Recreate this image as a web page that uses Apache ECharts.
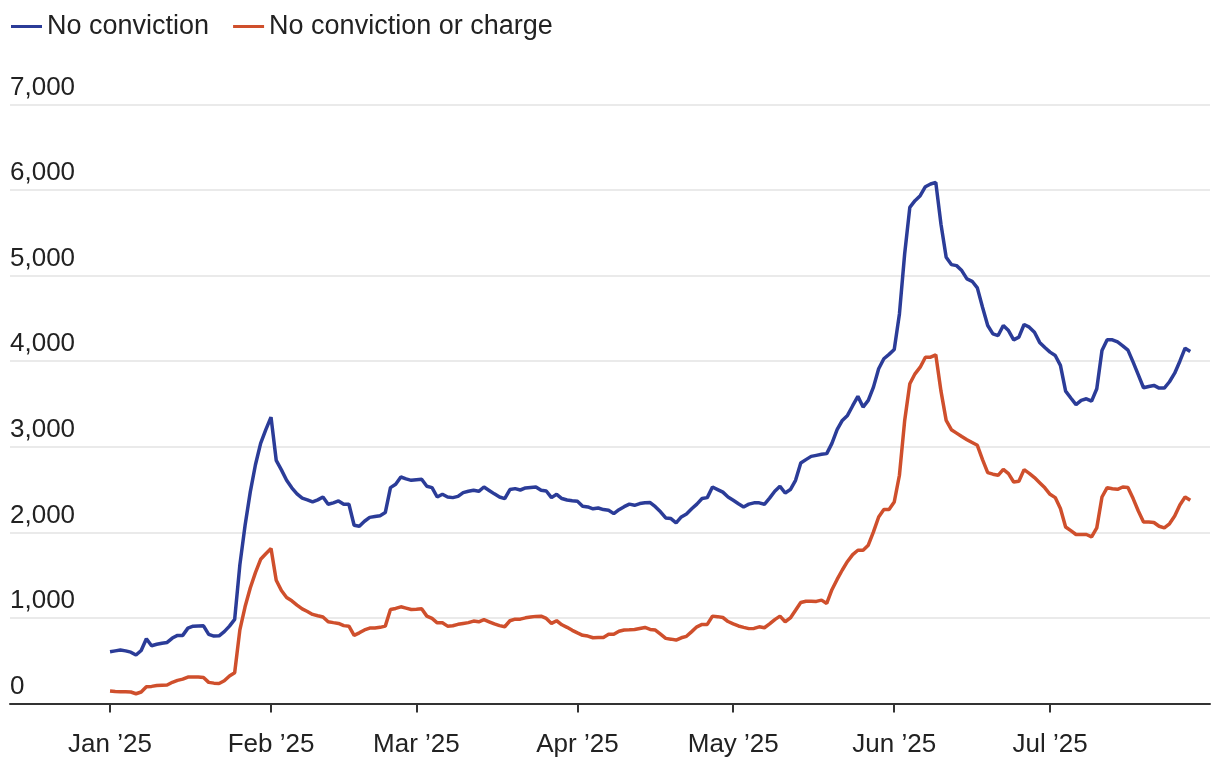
<!DOCTYPE html>
<html>
<head>
<meta charset="utf-8">
<script src="https://cdn.jsdelivr.net/npm/echarts@6/dist/echarts.min.js"></script>
<style>
html,body{margin:0;padding:0;background:#fff;}
#chart{width:1220px;height:764px;}
</style>
</head>
<body>
<div id="chart"></div>
<script>
// Day offsets from 1 Jan 2025 where each month starts, and their labels
const monthStartDays = [0, 31, 59, 90, 120, 151, 181];
const monthLabels = ['Jan \u201925', 'Feb \u201925', 'Mar \u201925', 'Apr \u201925', 'May \u201925', 'Jun \u201925', 'Jul \u201925'];
const yTicks = [0, 1000, 2000, 3000, 4000, 5000, 6000, 7000];
const seriesNames = ['No conviction', 'No conviction or charge'];

// Daily values, 1 Jan 2025 .. 28 Jul 2025
const noConviction = [
605,615,625,615,600,566,620,756,675,692,
705,714,765,796,796,881,904,906,908,808,
788,791,840,904,983,1620,2080,2470,2790,3040,
3200,3347,2842,2730,2608,2520,2450,2400,2380,2355,
2380,2413,2328,2345,2367,2328,2328,2083,2071,2130,
2175,2185,2195,2231,2523,2562,2647,2625,2608,2615,
2620,2538,2523,2413,2445,2413,2406,2420,2464,2480,
2491,2480,2530,2490,2450,2413,2395,2500,2511,2495,
2519,2525,2530,2491,2483,2406,2445,2395,2378,2370,
2363,2305,2297,2275,2285,2266,2258,2219,2265,2300,
2330,2316,2336,2345,2348,2300,2240,2168,2161,2110,
2180,2215,2275,2330,2395,2406,2530,2500,2470,2413,
2375,2335,2297,2330,2345,2345,2328,2400,2480,2538,
2460,2500,2608,2810,2850,2888,2900,2912,2920,3040,
3200,3308,3367,3480,3589,3464,3542,3697,3912,4029,
4080,4137,4553,5250,5798,5876,5934,6039,6071,6090,
5600,5214,5129,5117,5059,4962,4934,4857,4631,4417,
4320,4300,4417,4358,4250,4281,4429,4398,4339,4220,
4160,4106,4067,3951,3651,3570,3492,3542,3561,3534,
3678,4125,4250,4250,4225,4180,4130,3989,3840,3690,
3705,3717,3686,3686,3760,3860,4000,4152,4114
];
const noConvictionOrCharge = [
145,140,138,136,134,114,134,196,200,210,
214,216,248,270,285,309,309,309,305,247,
238,233,265,321,359,860,1130,1350,1530,1685,
1750,1811,1441,1320,1239,1200,1150,1105,1075,1041,
1025,1010,955,945,936,910,904,796,826,860,
881,883,890,904,1099,1111,1130,1115,1099,1102,
1107,1021,994,943,943,904,908,925,936,945,
963,955,980,955,930,910,897,967,986,986,
1001,1010,1018,1021,994,936,967,920,890,855,
825,797,788,768,770,772,808,810,845,858,
861,865,877,889,866,858,810,761,752,741,
768,785,840,896,924,924,1021,1015,1005,958,
930,906,890,875,877,896,885,930,980,1021,
955,1000,1090,1181,1195,1194,1193,1208,1169,1330,
1450,1560,1660,1740,1791,1791,1850,2005,2180,2266,
2266,2355,2667,3300,3737,3853,3930,4047,4047,4075,
3650,3308,3200,3160,3120,3083,3050,3017,2850,2698,
2680,2667,2737,2686,2589,2597,2733,2690,2640,2580,
2520,2445,2406,2278,2063,2020,1975,1975,1975,1947,
2052,2413,2523,2510,2503,2530,2523,2395,2250,2122,
2120,2115,2071,2052,2100,2190,2320,2413,2375
];

const toPairs = arr => arr.map((v, i) => [i, v]);

const chart = echarts.init(document.getElementById('chart'), null, {renderer: 'canvas'});
const FONT = 'Liberation Sans';
const TXT = '#222222';

chart.setOption({
  animation: false,
  backgroundColor: '#ffffff',
  textStyle: {fontFamily: FONT},
  legend: {
    left: 6,
    top: 8,
    icon: 'rect',
    itemWidth: 31,
    itemHeight: 3,
    itemGap: 24,
    textStyle: {fontFamily: FONT, fontSize: 27, color: TXT},
    data: seriesNames
  },
  grid: {left: 10, right: 10, top: 104.5, bottom: 60.5, containLabel: false},
  xAxis: {
    type: 'value',
    min: -19.26,
    max: 211.8,
    axisLine: {show: true, lineStyle: {color: '#333333', width: 2}},
    axisTick: {show: true, customValues: monthStartDays, length: 9, lineStyle: {color: '#333333', width: 2}},
    axisLabel: {
      show: true,
      customValues: monthStartDays,
      margin: 28,
      fontFamily: FONT,
      fontSize: 26,
      color: TXT,
      formatter: v => monthLabels[monthStartDays.indexOf(Math.round(v))] || ''
    },
    splitLine: {show: false}
  },
  yAxis: {
    type: 'value',
    min: yTicks[0],
    max: yTicks[yTicks.length - 1],
    interval: 1000,
    axisLine: {show: false},
    axisTick: {show: false},
    axisLabel: {
      inside: true,
      margin: 0,
      align: 'left',
      verticalAlign: 'bottom',
      lineHeight: 26,
      padding: [0, 0, 4, 0],
      fontFamily: FONT,
      fontSize: 26,
      color: TXT,
      formatter: v => v.toLocaleString('en-US')
    },
    splitLine: {show: true, lineStyle: {color: '#e3e3e3', width: 1.5}}
  },
  series: [
    {
      name: seriesNames[1],
      type: 'line',
      data: toPairs(noConvictionOrCharge),
      showSymbol: false,
      symbol: 'none',
      color: '#cf4f2c',
      lineStyle: {width: 3.5, color: '#cf4f2c'},
      z: 2
    },
    {
      name: seriesNames[0],
      type: 'line',
      data: toPairs(noConviction),
      showSymbol: false,
      symbol: 'none',
      color: '#2b3c98',
      lineStyle: {width: 3.5, color: '#2b3c98'},
      z: 3
    }
  ]
});
</script>
</body>
</html>
